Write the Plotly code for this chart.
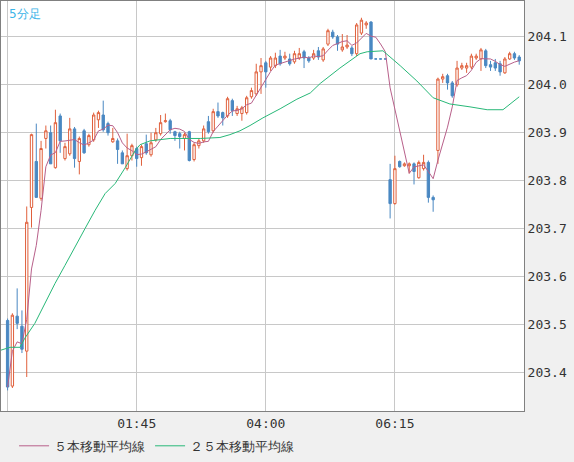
import plotly.graph_objects as go
import pandas as pd

idx = list(range(108))
opens = [203.508,203.371,203.517,203.496,203.444,203.744,203.840,203.763,203.888,203.900,
         203.827,203.935,203.846,203.856,203.908,203.840,203.904,203.875,203.885,203.927,
         203.937,203.919,203.881,203.883,203.858,203.825,203.852,203.867,203.848,203.877,
         203.854,203.885,203.898,203.923,203.925,203.902,203.898,203.888,203.902,203.844,
         203.873,203.883,203.923,203.904,203.944,203.942,203.935,203.967,203.940,203.940,
         203.942,203.975,203.981,204.027,204.046,204.037,204.040,204.060,204.056,204.054,
         204.048,204.056,204.069,204.056,204.056,204.071,204.052,204.085,204.110,204.100,
         204.073,204.079,204.077,204.065,204.108,204.125,204.131,204.054,204.054,204.054,
         203.802,203.752,203.840,203.831,203.831,203.835,203.806,203.825,203.838,203.765,
         203.863,204.012,204.019,204.004,204.000,204.035,204.035,204.037,204.056,204.054,
         204.071,204.042,204.046,204.044,204.025,204.054,204.065,204.058]
highs = [203.512,203.523,203.575,203.529,203.746,203.898,203.919,203.883,203.915,203.915,
         203.948,203.940,203.879,203.931,203.912,203.892,203.908,203.898,203.942,203.946,
         203.967,203.923,203.910,203.888,203.863,203.898,203.877,203.871,203.875,203.896,
         203.900,203.910,203.937,203.940,203.929,203.904,203.902,203.900,203.904,203.879,
         203.888,203.915,203.935,203.950,203.963,203.944,203.975,203.971,203.956,203.956,
         203.977,203.994,204.044,204.056,204.050,204.060,204.067,204.073,204.069,204.065,
         204.071,204.077,204.073,204.060,204.073,204.079,204.079,204.117,204.115,204.104,
         204.106,204.104,204.081,204.129,204.140,204.133,204.133,204.054,204.054,204.054,
         203.835,203.852,203.842,203.838,203.838,203.838,203.842,203.854,203.842,203.769,
         204.015,204.023,204.023,204.008,204.050,204.046,204.046,204.065,204.065,204.077,
         204.075,204.050,204.054,204.050,204.058,204.069,204.069,204.062]
lows = [203.362,203.367,203.490,203.440,203.390,203.702,203.765,203.758,203.867,203.835,
        203.825,203.858,203.842,203.852,203.827,203.813,203.856,203.871,203.881,203.910,
        203.902,203.894,203.879,203.835,203.835,203.821,203.842,203.829,203.831,203.854,
        203.850,203.881,203.894,203.921,203.898,203.883,203.867,203.863,203.840,203.840,
        203.867,203.879,203.898,203.900,203.931,203.915,203.931,203.935,203.935,203.925,
        203.938,203.971,203.977,203.981,203.994,204.029,204.035,204.040,204.052,204.040,
        204.044,204.052,204.035,204.046,204.052,204.052,204.048,204.081,204.096,204.071,
        204.069,204.075,204.060,204.060,204.104,204.117,204.054,204.054,204.054,204.054,
        203.721,203.750,203.827,203.829,203.815,203.792,203.804,203.821,203.754,203.735,
        203.835,204.004,203.990,203.973,203.996,204.031,204.025,204.033,204.052,204.029,
        204.035,204.029,204.029,204.019,204.023,204.052,204.052,204.042]
closes = [203.369,203.519,203.502,203.448,203.713,203.896,203.765,203.867,203.904,203.835,
          203.921,203.883,203.871,203.908,203.846,203.888,203.858,203.894,203.937,203.942,
          203.906,203.900,203.888,203.865,203.835,203.852,203.873,203.846,203.871,203.858,
          203.879,203.900,203.921,203.925,203.906,203.894,203.892,203.896,203.842,203.875,
          203.883,203.908,203.902,203.944,203.935,203.931,203.971,203.946,203.950,203.952,
          203.973,203.988,204.027,204.040,204.027,204.056,204.056,204.044,204.060,204.044,
          204.065,204.065,204.056,204.050,204.065,204.058,204.075,204.113,204.100,204.085,
          204.079,204.083,204.065,204.125,204.135,204.129,204.054,204.054,204.054,204.054,
          203.752,203.825,203.829,203.835,203.835,203.819,203.838,203.838,203.765,203.760,
          204.012,204.017,204.004,203.977,204.035,204.040,204.040,204.060,204.060,204.073,
          204.040,204.037,204.035,204.027,204.054,204.065,204.056,204.050]

ma25_x = [-1.4,0.5,2.6,3.6,5.7,7.8,9.9,12.0,14.1,16.2,18.3,20.4,22.5,24.6,26.7,27.7,29.8,34.0,
          40.3,44.4,46.5,48.6,50.7,53.4,57.0,60.5,63.3,65.4,69.5,73.7,75.2,78.5,82.1,85.6,89.0,
          92.5,96.7,100.3,103.6,105.1,107.0]
ma25_y = [203.446,203.452,203.452,203.471,203.502,203.544,203.585,203.623,203.660,203.700,
          203.738,203.773,203.794,203.827,203.863,203.875,203.883,203.888,203.888,203.890,
          203.896,203.904,203.915,203.931,203.950,203.970,203.983,204.003,204.035,204.065,
          204.069,204.071,204.040,204.008,203.973,203.960,203.954,203.948,203.948,203.960,203.975]

tick_vals = [0, 27, 54, 81]
tick_text = ["", "01:45", "04:00", "06:15"]
y_ticks = [203.4, 203.5, 203.6, 203.7, 203.8, 203.9, 204.0, 204.1]

ma5 = pd.Series(closes).rolling(5, min_periods=1).mean().tolist()

fig = go.Figure()
fig.add_trace(go.Candlestick(
    x=idx, open=opens, high=highs, low=lows, close=closes,
    increasing=dict(line=dict(color="#e0603c", width=1), fillcolor="#ffffff"),
    decreasing=dict(line=dict(color="#4a88c2", width=1), fillcolor="#4a88c2"),
    whiskerwidth=0, showlegend=False, hoverinfo="skip"))
fig.add_trace(go.Scatter(x=idx, y=ma5, mode="lines", name="５本移動平均線",
                         line=dict(color="#b8608a", width=1)))
fig.add_trace(go.Scatter(x=ma25_x, y=ma25_y, mode="lines", name="２５本移動平均線",
                         line=dict(color="#28b878", width=1)))

fig.update_layout(
    width=574, height=462,
    margin=dict(l=1, r=50, t=1, b=51),
    paper_bgcolor="#f0f0f0", plot_bgcolor="#ffffff",
    font=dict(family="DejaVu Sans Mono", size=13, color="#333333"),
    legend=dict(orientation="h", x=0.025, xanchor="left", y=-0.085, yanchor="middle",
                bgcolor="rgba(0,0,0,0)", font=dict(size=13, family="DejaVu Sans"), itemwidth=30),
    annotations=[dict(text="5分足", xref="paper", yref="paper", x=0.012, y=0.99,
                      xanchor="left", yanchor="top", showarrow=False,
                      font=dict(color="#3ab4e8", size=12, family="DejaVu Sans"))],
)
fig.update_xaxes(range=[-1.38, 108.0], tickvals=tick_vals, ticktext=tick_text,
                 showgrid=True, gridcolor="#c8c8c8", gridwidth=1, zeroline=False,
                 showline=True, linecolor="#808080", linewidth=1, mirror=True,
                 rangeslider=dict(visible=False), ticks="", ticklen=0)
fig.update_yaxes(range=[203.319, 204.175], side="right", tickvals=y_ticks,
                 tickformat=".1f", showgrid=True, gridcolor="#c8c8c8", gridwidth=1,
                 zeroline=False, showline=True, linecolor="#808080", linewidth=1,
                 mirror=True, ticks="")
fig.write_html("out.html", config={"displayModeBar": False},
               post_script="document.body.style.margin='0';document.body.style.background='#f0f0f0';")
